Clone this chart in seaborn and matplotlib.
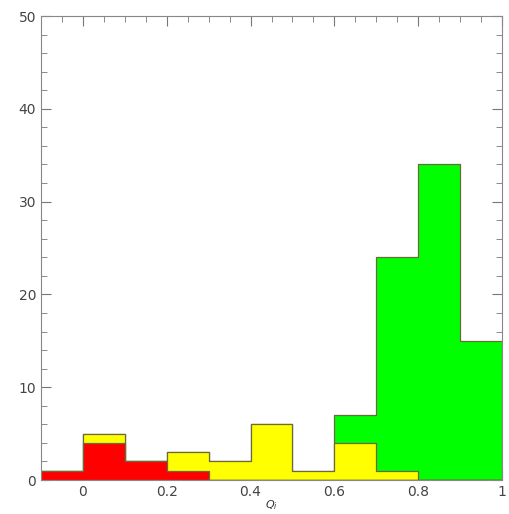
import numpy as np
import pandas as pd
import matplotlib
matplotlib.use("Agg")
import matplotlib.pyplot as plt
import seaborn as sns
from matplotlib.ticker import MultipleLocator

# bin edges and counts
bin_edges = [-0.1, 0.0, 0.1, 0.2, 0.3, 0.4, 0.5, 0.6, 0.7, 0.8, 0.9, 1.0]
bin_centers = [-0.05, 0.05, 0.15, 0.25, 0.35, 0.45, 0.55, 0.65, 0.75, 0.85, 0.95]
total_counts = [1, 5, 2, 3, 2, 6, 1, 7, 24, 34, 15]
yellow_counts = [1, 5, 2, 3, 2, 6, 1, 4, 1, 0, 0]
red_counts = [1, 4, 2, 1, 0, 0, 0, 0, 0, 0, 0]

sns.set_style("ticks")

fig = plt.figure(figsize=(5.09, 5.14), dpi=100)
ax = fig.add_axes([41 / 509, 34 / 514, 461 / 509, 464 / 514])

edge = "#6b6b3a"
for counts, col in [(total_counts, "#00ff00"), (yellow_counts, "#ffff00"), (red_counts, "#ff0000")]:
    sns.histplot(x=bin_centers, weights=counts, bins=bin_edges, element="step",
                 color=col, alpha=1, edgecolor=edge, linewidth=0.9, ax=ax)

ax.set_xlim(-0.1, 1.0)
ax.set_ylim(0, 50)
ax.xaxis.set_major_locator(MultipleLocator(0.2))
ax.xaxis.set_minor_locator(MultipleLocator(0.05))
ax.yaxis.set_major_locator(MultipleLocator(10))
ax.yaxis.set_minor_locator(MultipleLocator(2))
ax.set_xticks([0, 0.2, 0.4, 0.6, 0.8, 1.0])
ax.set_xticklabels(["0", "0.2", "0.4", "0.6", "0.8", "1"])
ax.tick_params(which="both", direction="in", top=True, right=True, colors="#777777",
               labelcolor="#444444", labelsize=10)
ax.tick_params(which="major", length=7)
ax.tick_params(which="minor", length=4)
for s in ax.spines.values():
    s.set_color("#888888")
    s.set_linewidth(0.8)

ax.set_ylabel("")
ax.set_xlabel(r"$Q_i$", fontsize=8, color="#333333")
ax.xaxis.set_label_coords(0.5, -0.04)

fig.savefig("out.png", dpi=100)
